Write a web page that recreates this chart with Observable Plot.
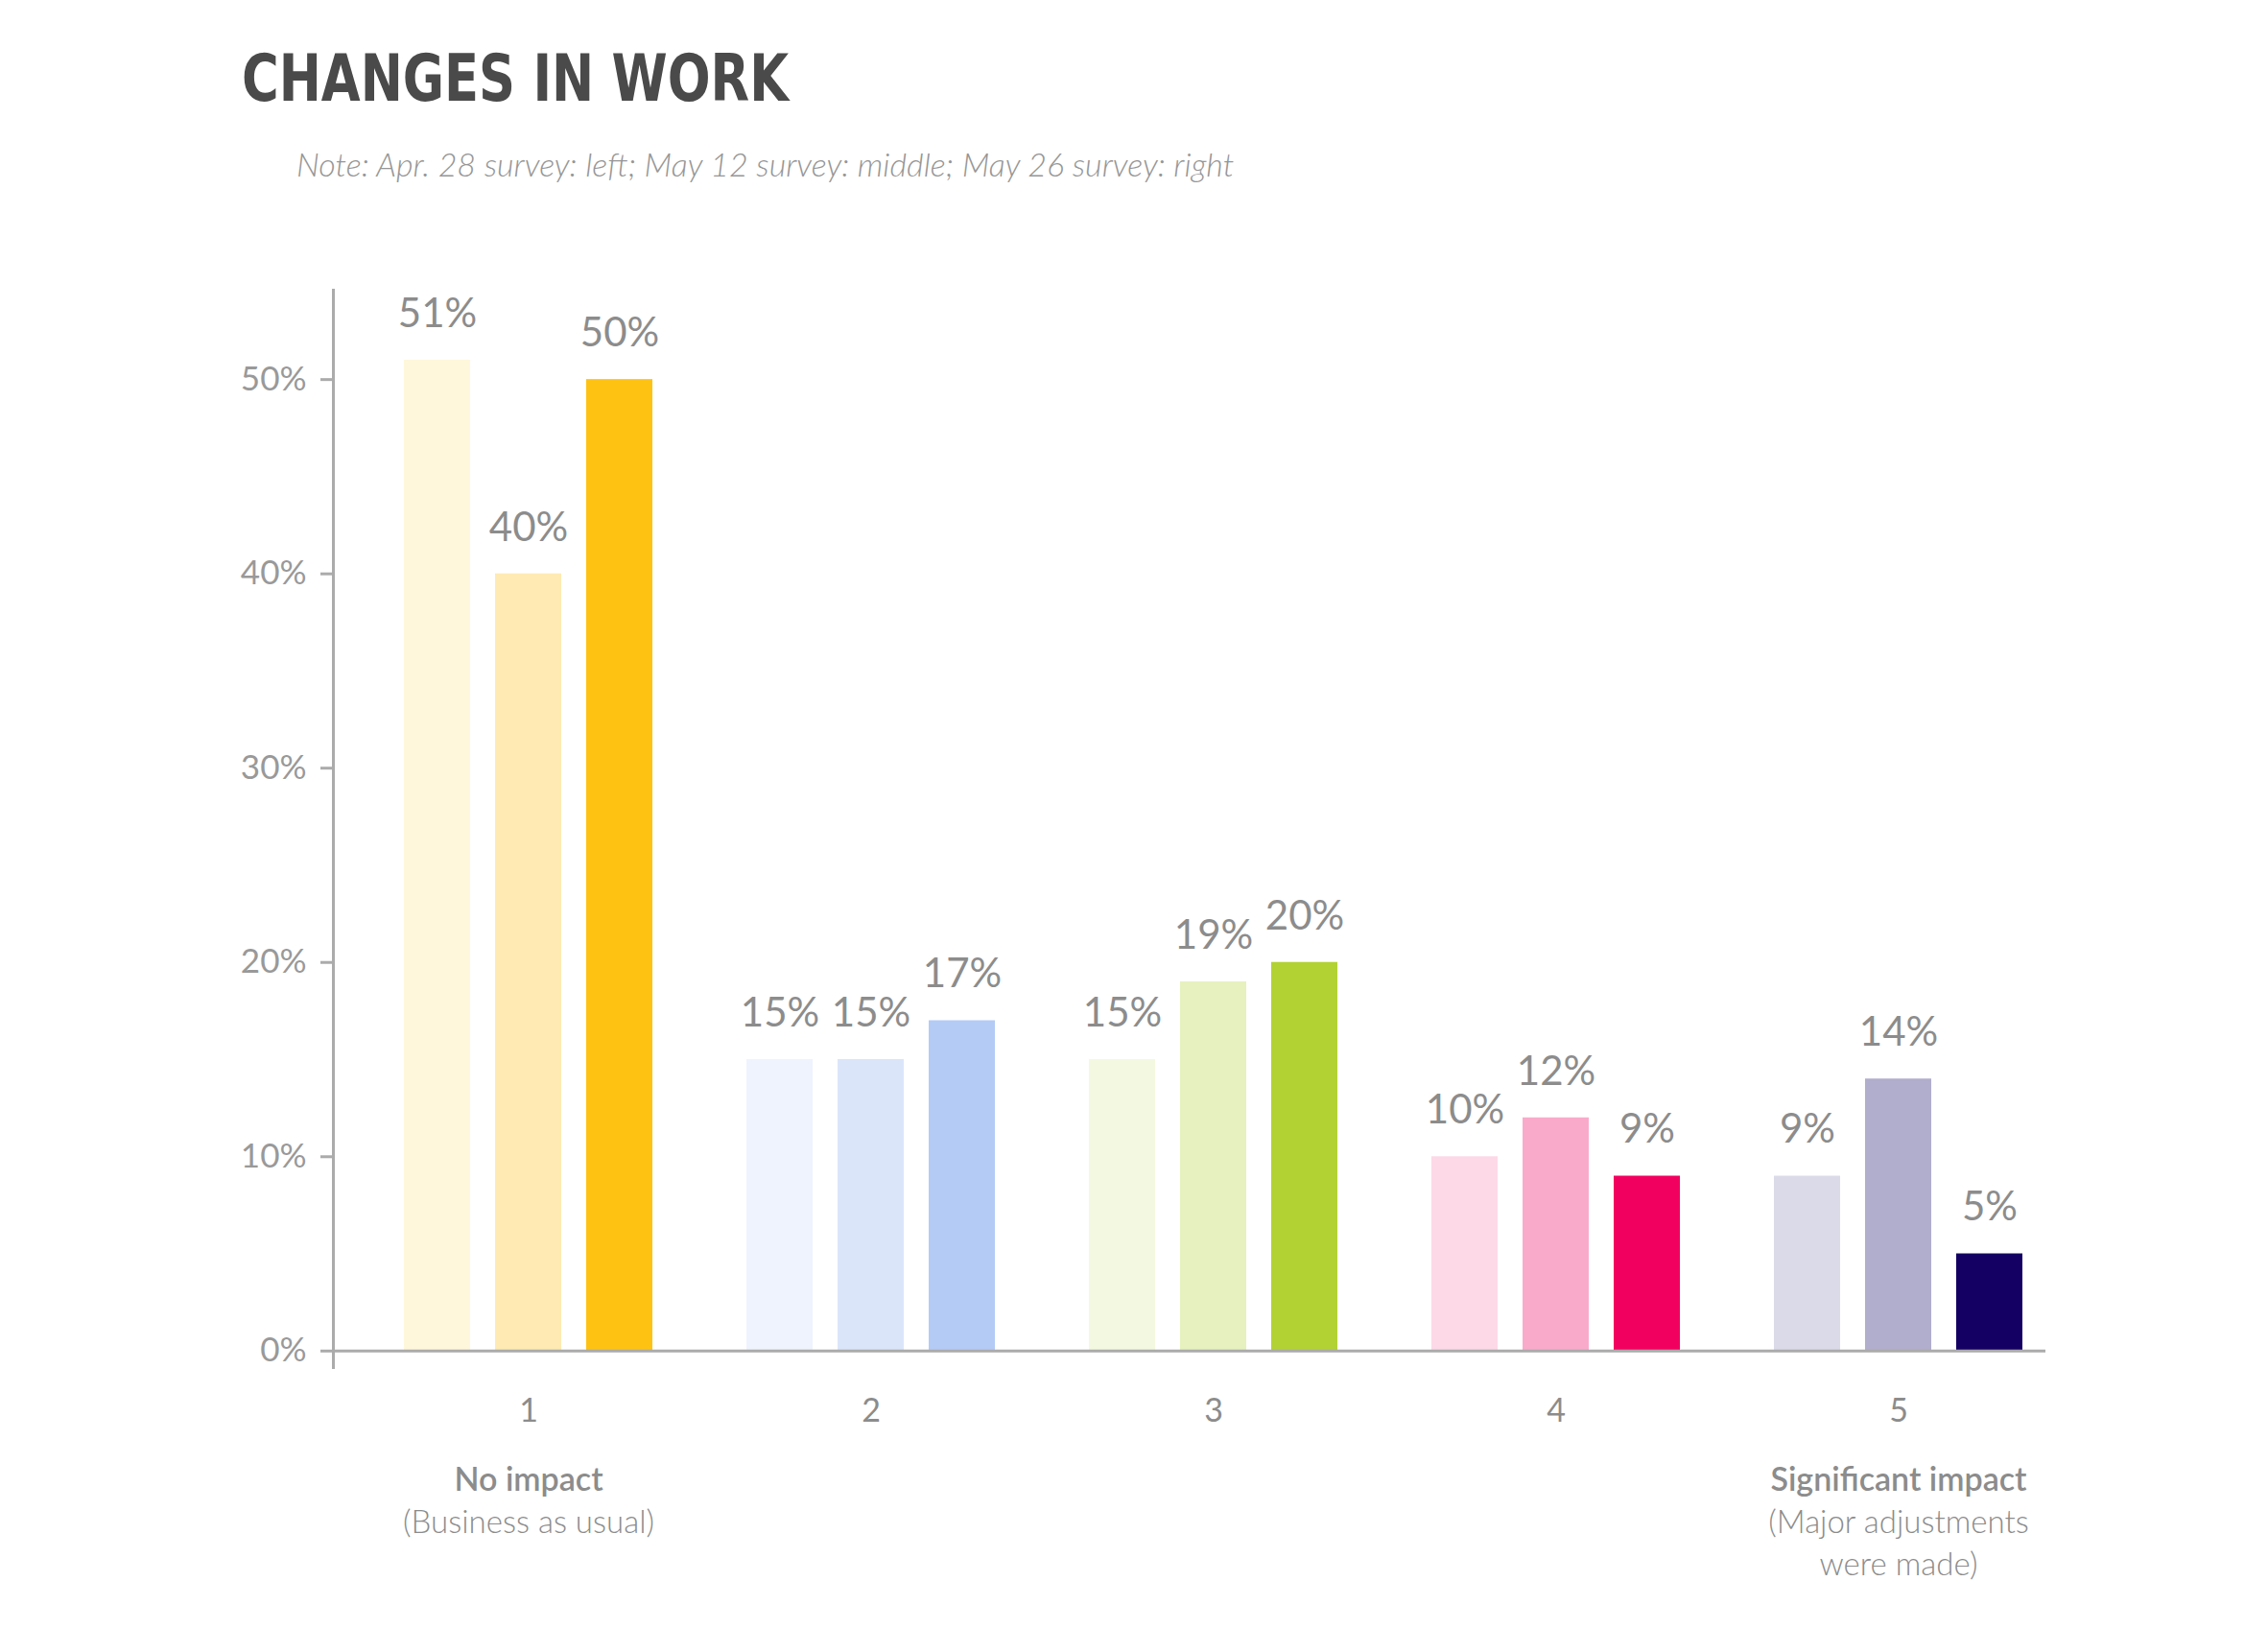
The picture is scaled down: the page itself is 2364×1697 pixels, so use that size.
<!DOCTYPE html>
<html>
<head>
<meta charset="utf-8">
<script src="https://cdn.jsdelivr.net/npm/d3@7"></script>
<script src="https://cdn.jsdelivr.net/npm/@observablehq/plot@0.6"></script>
<style>
  html, body { margin: 0; padding: 0; background: #fff; }
  body { position: relative; width: 2364px; height: 1697px; overflow: hidden; }
  #title {
    position: absolute; left: 252px; top: 49px; margin: 0;
    font-family: "Liberation Sans Narrow", "DejaVu Sans Condensed", sans-serif;
    font-weight: 700; font-size: 67px; line-height: 1; letter-spacing: 0px;
    color: #4a4a4a; transform: scaleX(0.875); transform-origin: left top; white-space: nowrap;
  }
  #subtitle {
    position: absolute; left: 309px; top: 154px; margin: 0;
    font-family: Lato, sans-serif; font-style: italic; font-weight: 300;
    font-size: 34px; line-height: 1; color: #969696; white-space: nowrap;
  }
  #chart { position: absolute; left: 0; top: 200px; }
</style>
</head>
<body>
<div id="title">CHANGES IN WORK</div>
<div id="subtitle">Note: Apr. 28 survey: left; May 12 survey: middle; May 26 survey: right</div>
<div id="chart"></div>
<script>
// ---- data ----
const groups = [1, 2, 3, 4, 5];
const groupLabels = ["1", "2", "3", "4", "5"];
const surveys = ["Apr. 28", "May 12", "May 26"];
const apr28 = [51, 15, 15, 10, 9];
const may12 = [40, 15, 19, 12, 14];
const may26 = [50, 17, 20, 9, 5];
const apr28Colors = ["#fff7db", "#eef3fd", "#f3f8e0", "#fdd9e7", "#dbdae9"];
const may12Colors = ["#feeab2", "#dbe5fa", "#e6f1bf", "#f9aacb", "#b1adcc"];
const may26Colors = ["#fec213", "#b4cbf5", "#b2d234", "#f2005f", "#130062"];
const yTicks = [0, 10, 20, 30, 40, 50];
const endGroups = [1, 5];
const endTitles = ["No impact", "Significant impact"];
const endNotes = ["(Business as usual)", "(Major adjustments\nwere made)"];

const seriesValues = [apr28, may12, may26];
const seriesColors = [apr28Colors, may12Colors, may26Colors];
const rows = [];
groups.forEach((g, i) => {
  surveys.forEach((s, j) => {
    rows.push({group: g, survey: s, value: seriesValues[j][i], color: seriesColors[j][i]});
  });
});
const groupRows = groups.map((g, i) => ({group: g, label: groupLabels[i], survey: surveys[1]}));
const endRows = endGroups.map((g, i) => ({group: g, title: endTitles[i], note: endNotes[i], survey: surveys[1]}));

const gray = "#8c8c8c";
const axisGray = "#ababab";

const chart = Plot.plot({
  width: 2364,
  height: 1480,
  marginLeft: 346,
  marginRight: 232,
  marginTop: 102,
  marginBottom: 255,
  style: {fontFamily: "Lato, sans-serif", background: "transparent", overflow: "visible"},
  fx: {domain: groups, paddingInner: 0, paddingOuter: 0, axis: null, label: null},
  x: {domain: surveys, paddingInner: 0.27, paddingOuter: 0.495, align: 0.754, axis: null, label: null},
  y: {domain: [-0.85, 54.6], axis: null, label: null},
  color: {type: "identity"},
  marks: [
    Plot.barY(rows, {fx: "group", x: "survey", y: "value", fill: "color"}),
    Plot.ruleY([0], {stroke: axisGray, strokeWidth: 3}),
    Plot.frame({anchor: "left", facet: "super", stroke: axisGray, strokeWidth: 3}),
    Plot.axisY({
      ticks: yTicks, tickFormat: d => d + "%", tickSize: 13, tickPadding: 15,
      fontSize: 35, color: "#999999", stroke: axisGray, strokeWidth: 3, label: null, fontWeight: 400
    }),
    Plot.text(rows, {
      fx: "group", x: "survey", y: "value", text: d => d.value + "%",
      dy: -48, fontSize: 42, fill: gray, fontWeight: 400
    }),
    Plot.text(groupRows, {
      fx: "group", x: "survey", text: "label", frameAnchor: "bottom",
      dy: 56, fontSize: 34, fill: gray, fontWeight: 400
    }),
    Plot.text(endRows, {
      fx: "group", x: "survey", text: "title", frameAnchor: "bottom",
      dy: 128, fontSize: 34, fill: gray, fontWeight: 600
    }),
    Plot.text(endRows, {
      fx: "group", x: "survey", text: "note", frameAnchor: "bottom", lineAnchor: "top",
      dy: 141, fontSize: 33, fill: gray, fontWeight: 300, lineHeight: 1.33
    })
  ]
});
document.getElementById("chart").appendChild(chart);
</script>
</body>
</html>
